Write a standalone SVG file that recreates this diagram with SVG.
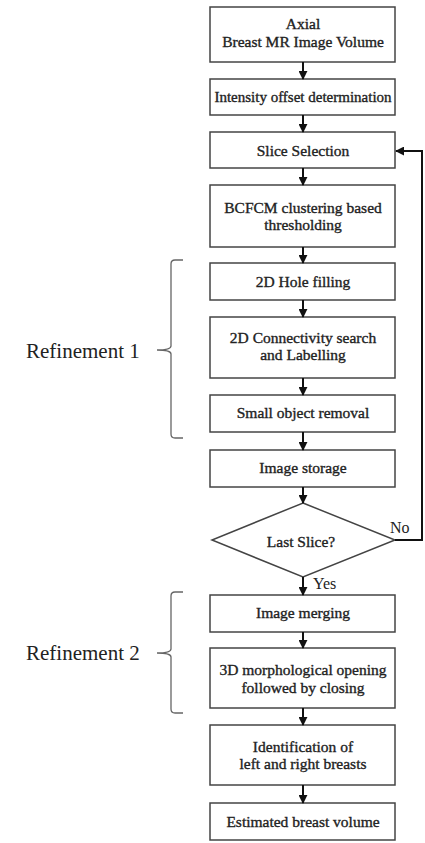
<svg xmlns="http://www.w3.org/2000/svg" width="425" height="843" viewBox="0 0 425 843">
<defs>
<style>
.box{fill:#fff;stroke:#444;stroke-width:1.5}
.t{font-family:"Liberation Serif","Times New Roman",serif;font-size:15.5px;fill:#222;stroke:#222;stroke-width:0.35;text-anchor:middle}
.lbl{font-family:"Liberation Serif","Times New Roman",serif;font-size:16px;fill:#222}
.ref{font-family:"Liberation Serif","Times New Roman",serif;font-size:21px;fill:#222}
.c{fill:none;stroke:#111;stroke-width:2}
.br{fill:none;stroke:#666;stroke-width:1.3}
</style>
<marker id="ah" viewBox="0 0 10 10" refX="9" refY="5" markerWidth="4.5" markerHeight="4.5" orient="auto" markerUnits="strokeWidth">
<path d="M0,0 L10,5 L0,10 z" fill="#111"/>
</marker>
</defs>
<rect width="425" height="843" fill="#fff"/>
<g id="n1"><rect class="box" x="210" y="7" width="185" height="55"/><text class="t" x="303" y="29">Axial</text><text class="t" x="303" y="47">Breast MR Image Volume</text></g>
<g id="n2"><rect class="box" x="210" y="79" width="185" height="36"/><text class="t" x="303" y="102" style="font-size:15px">Intensity offset determination</text></g>
<g id="n3"><rect class="box" x="210" y="132" width="185" height="36"/><text class="t" x="303" y="156">Slice Selection</text></g>
<g id="n4"><rect class="box" x="210" y="185" width="185" height="62"/><text class="t" x="303" y="213">BCFCM clustering based</text><text class="t" x="303" y="230">thresholding</text></g>
<g id="n5"><rect class="box" x="210" y="263" width="185" height="37"/><text class="t" x="303" y="287">2D Hole filling</text></g>
<g id="n6"><rect class="box" x="210" y="317" width="185" height="61"/><text class="t" x="303" y="343">2D Connectivity search</text><text class="t" x="303" y="360">and Labelling</text></g>
<g id="n7"><rect class="box" x="210" y="395" width="185" height="37"/><text class="t" x="303" y="418">Small object removal</text></g>
<g id="n8"><rect class="box" x="210" y="450" width="185" height="37"/><text class="t" x="303" y="473">Image storage</text></g>
<g id="n9"><polygon class="box" points="303,503 395,540 303,577 212,540"/><text class="t" x="301" y="547">Last Slice?</text></g>
<g id="n10"><rect class="box" x="210" y="595" width="185" height="37"/><text class="t" x="303" y="618">Image merging</text></g>
<g id="n11"><rect class="box" x="210" y="648" width="185" height="60"/><text class="t" x="303" y="675">3D morphological opening</text><text class="t" x="303" y="693">followed by closing</text></g>
<g id="n12"><rect class="box" x="210" y="725" width="185" height="60"/><text class="t" x="303" y="752">Identification of</text><text class="t" x="303" y="769">left and right breasts</text></g>
<g id="n13"><rect class="box" x="210" y="803" width="185" height="37"/><text class="t" x="303" y="827">Estimated breast volume</text></g>
<g id="connectors">
<line class="c" x1="303" y1="62" x2="303" y2="79" marker-end="url(#ah)"/>
<line class="c" x1="303" y1="115" x2="303" y2="132" marker-end="url(#ah)"/>
<line class="c" x1="303" y1="168" x2="303" y2="185" marker-end="url(#ah)"/>
<line class="c" x1="303" y1="247" x2="303" y2="263" marker-end="url(#ah)"/>
<line class="c" x1="303" y1="300" x2="303" y2="317" marker-end="url(#ah)"/>
<line class="c" x1="303" y1="378" x2="303" y2="395" marker-end="url(#ah)"/>
<line class="c" x1="303" y1="432" x2="303" y2="450" marker-end="url(#ah)"/>
<line class="c" x1="303" y1="487" x2="303" y2="503" marker-end="url(#ah)"/>
<line class="c" x1="303" y1="577" x2="303" y2="595" marker-end="url(#ah)"/>
<line class="c" x1="303" y1="632" x2="303" y2="648" marker-end="url(#ah)"/>
<line class="c" x1="303" y1="708" x2="303" y2="725" marker-end="url(#ah)"/>
<line class="c" x1="303" y1="785" x2="303" y2="803" marker-end="url(#ah)"/>
<polyline class="c" points="395,540 422,540 422,151 396,151" marker-end="url(#ah)"/>
<text class="lbl" x="390" y="533">No</text>
<text class="lbl" x="313" y="589">Yes</text>
</g>
<g id="refinement1">
<path class="br" d="M183,260 H175 Q171,260 171,264 V346 Q171,350 157,350 Q171,350 171,354 V434 Q171,438 175,438 H183"/>
<text class="ref" x="26" y="358">Refinement 1</text>
</g>
<g id="refinement2">
<path class="br" d="M183,592 H175 Q171,592 171,596 V649 Q171,653 157,653 Q171,653 171,657 V709 Q171,713 175,713 H183"/>
<text class="ref" x="26" y="660">Refinement 2</text>
</g>
</svg>
